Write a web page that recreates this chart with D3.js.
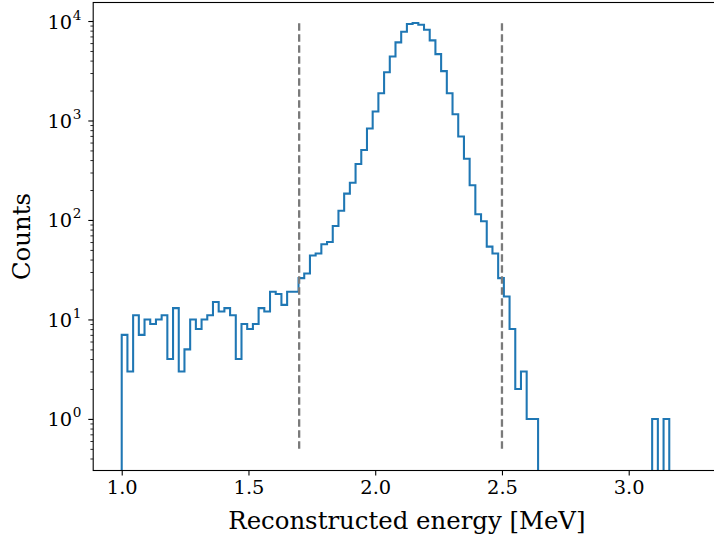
<!DOCTYPE html>
<html><head><meta charset="utf-8">
<script src="https://cdn.jsdelivr.net/npm/d3@7"></script>
<style>
html,body{margin:0;padding:0;background:#fff;}
svg{display:block;font-family:"DejaVu Serif",serif;}
</style></head>
<body><svg id="c" width="714" height="535"></svg>
<script>
// ---- data ----
const binStart = 1.0;
const binWidth = 0.0225;
const counts = [
  7, 3, 11, 7, 10, 9, 10, 11, 4, 13,
  3, 5, 10, 8, 10, 11, 15, 12, 13, 11,
  4, 9, 8, 9, 13, 12, 19, 18, 14, 19,
  19, 26, 29, 44, 46, 57, 60, 87, 124, 184,
  237, 365, 505, 830, 1230, 1880, 3060, 4400, 6100, 7800,
  9330, 9550, 9180, 8170, 6390, 4650, 3135, 1880, 1156, 690,
  413, 223, 114, 97, 54, 46, 26, 17, 8, 2,
  3, 1, 1, 0, 0, 0, 0, 0, 0, 0,
  0, 0, 0, 0, 0, 0, 0, 0, 0, 0,
  0, 0, 0, 1, 0, 1, 0, 0, 0, 0
];
const cutLines = [1.7, 2.5];
const cutRange = [0.5, 10000];
const xTicks = [1.0, 1.5, 2.0, 2.5, 3.0];
const yTicks = [1, 10, 100, 1000, 10000];
const yTickExp = ["0", "1", "2", "3", "4"];
const xDomain = [0.8875, 3.3625];
const yDomain = [0.303, 15350];
const xLabel = "Reconstructed energy [MeV]";
const yLabel = "Counts";

// ---- layout ----
const L = 93.2, R = 720.6, T = 2.5, B = 470.5;
const svg = d3.select("#c");
const x = d3.scaleLinear().domain(xDomain).range([L, R]);
const y = d3.scaleLog().domain(yDomain).range([B, T]);

svg.append("defs").append("clipPath").attr("id", "clip")
  .append("rect").attr("x", L).attr("y", T).attr("width", R - L).attr("height", B - T);

// histogram step path
const pts = [];
const floorV = 1e-3;
const edge = i => binStart + i * binWidth;
pts.push([edge(0), floorV]);
counts.forEach((c, i) => {
  const v = c > 0 ? c : floorV;
  pts.push([edge(i), v]);
  pts.push([edge(i + 1), v]);
});
pts.push([edge(counts.length), floorV]);
const line = d3.line().x(d => x(d[0])).y(d => y(d[1]));
svg.append("path").attr("clip-path", "url(#clip)")
  .attr("d", line(pts)).attr("fill", "none")
  .attr("stroke", "#1f77b4").attr("stroke-width", 2.08)
  .attr("stroke-linejoin", "miter");

// dashed cut lines
cutLines.forEach(v => {
  svg.append("line").attr("x1", x(v)).attr("x2", x(v))
    .attr("y1", y(cutRange[0])).attr("y2", y(cutRange[1]))
    .attr("stroke", "#7a7a7a").attr("stroke-width", 2.3)
    .attr("stroke-dasharray", "7.7,3.3");
});

// x axis
const gx = svg.append("g").attr("transform", `translate(0,${B})`)
  .call(d3.axisBottom(x).tickValues(xTicks).tickFormat(d3.format(".1f"))
    .tickSize(4.9).tickPadding(5));
gx.select(".domain").remove();
gx.selectAll(".tick line").attr("stroke", "#000").attr("stroke-width", 1.1);
gx.selectAll(".tick text").attr("font-family", "DejaVu Serif").attr("font-size", 19.4).attr("fill", "#000");

// y minor ticks
const minor = [];
[-1, 0, 1, 2, 3, 4].forEach(e => { for (let m = 2; m <= 9; m++) { const v = m * Math.pow(10, e); if (v >= yDomain[0] && v <= yDomain[1]) minor.push(v); } });
const gym = svg.append("g").attr("transform", `translate(${L},0)`)
  .call(d3.axisLeft(y).tickValues(minor).tickFormat("").tickSize(2.8));
gym.select(".domain").remove();
gym.selectAll(".tick line").attr("stroke", "#000").attr("stroke-width", 0.83);

// y major ticks
const gy = svg.append("g").attr("transform", `translate(${L},0)`)
  .call(d3.axisLeft(y).tickValues(yTicks).tickFormat("").tickSize(4.9));
gy.select(".domain").remove();
gy.selectAll(".tick line").attr("stroke", "#000").attr("stroke-width", 1.1);
gy.selectAll(".tick").each(function(d, i) {
  d3.select(this).append("text")
    .attr("x", -21).attr("y", 7).attr("text-anchor", "end")
    .attr("font-family", "DejaVu Serif").attr("font-size", 19.4).attr("fill", "#000")
    .text("10");
  d3.select(this).append("text")
    .attr("x", -20.5).attr("y", -2).attr("text-anchor", "start")
    .attr("font-family", "DejaVu Serif").attr("font-size", 13.6).attr("fill", "#000")
    .text(yTickExp[i]);
});

// spines
svg.append("rect").attr("x", L).attr("y", T).attr("width", R - L).attr("height", B - T)
  .attr("fill", "none").attr("stroke", "#000").attr("stroke-width", 1.1);

// labels
svg.append("text").attr("x", (L + R) / 2).attr("y", 529)
  .attr("text-anchor", "middle").attr("font-size", 24.4).attr("fill", "#000").text(xLabel);
svg.append("text").attr("transform", `translate(30,${(T + B) / 2}) rotate(-90)`)
  .attr("text-anchor", "middle").attr("font-size", 24.4).attr("fill", "#000").text(yLabel);
</script></body></html>
